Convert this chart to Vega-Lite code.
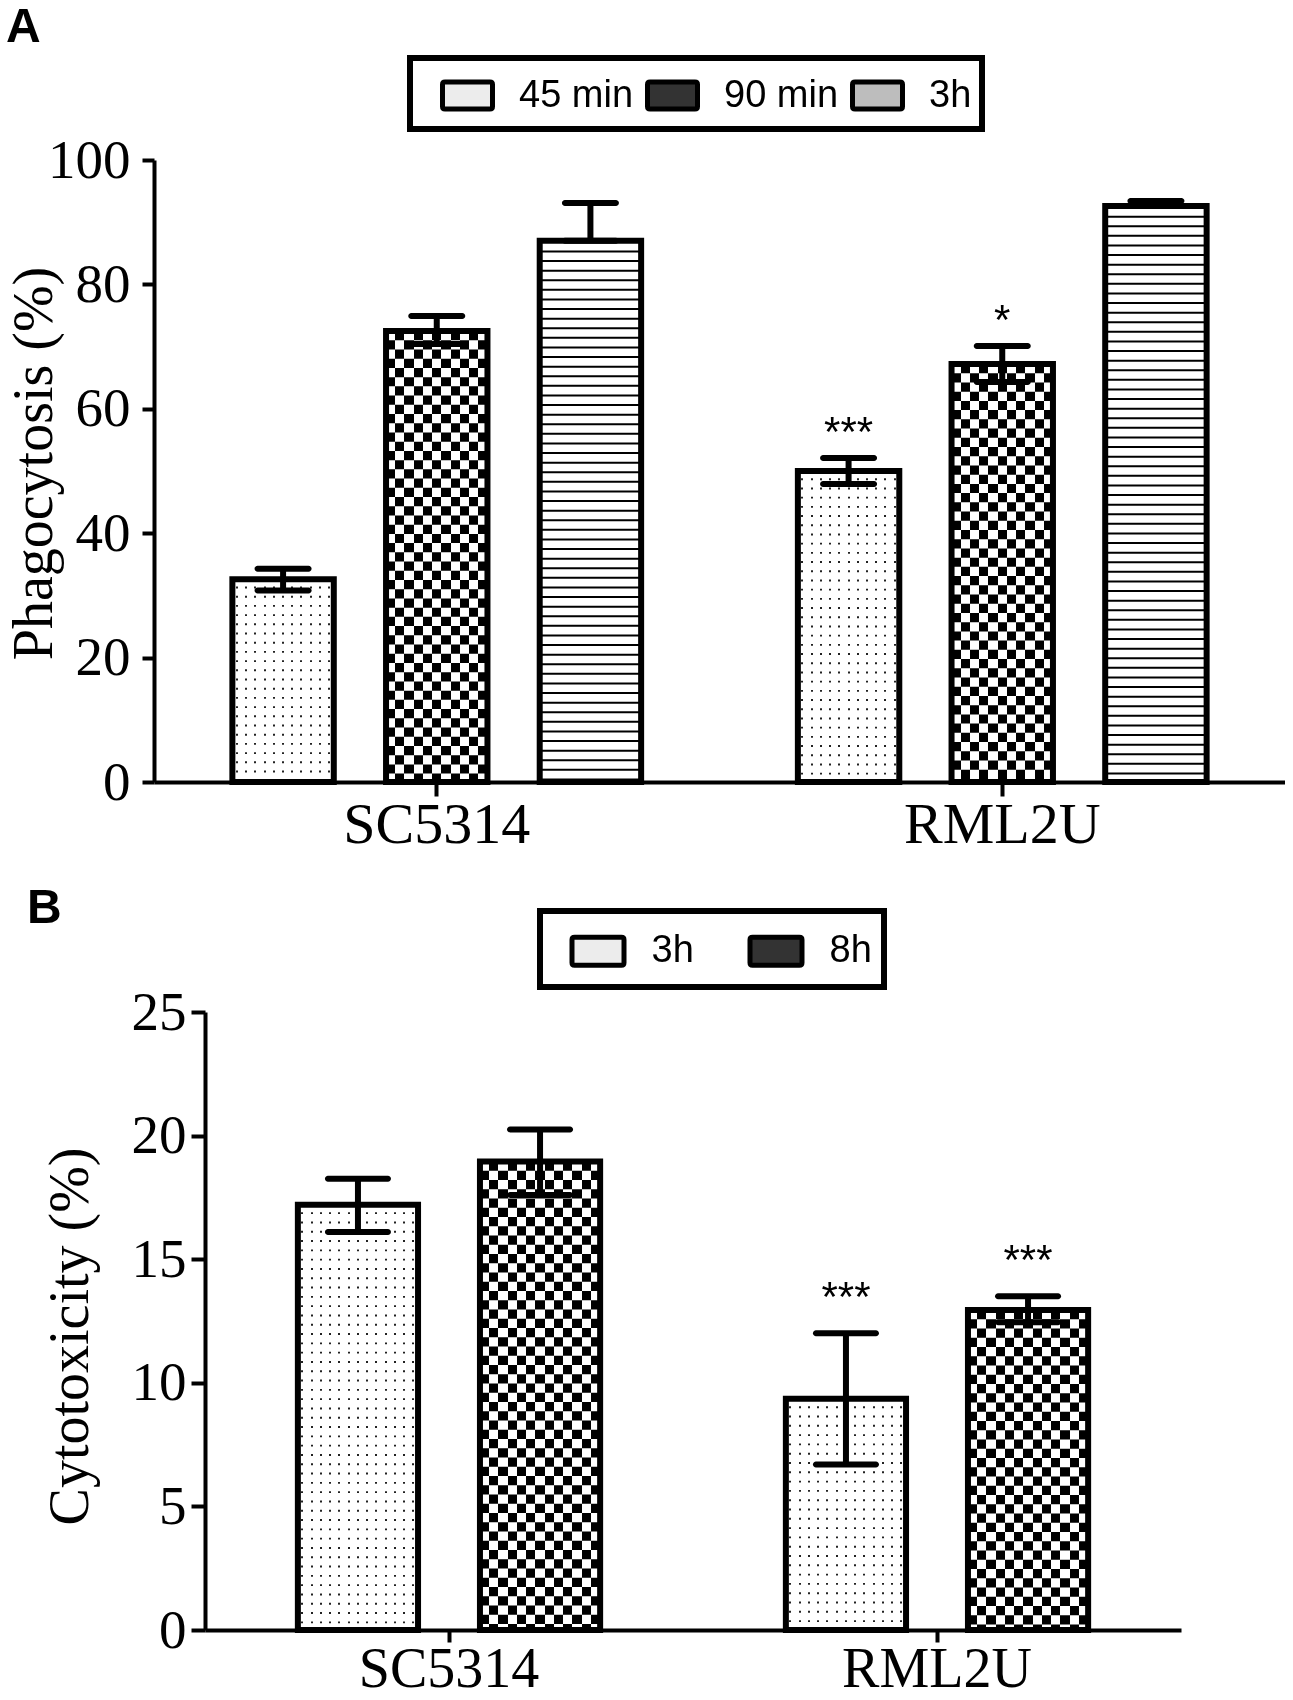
{
  "$schema": "https://vega.github.io/schema/vega-lite/v6.json",
  "padding": {"left": 5, "top": 4, "right": 0, "bottom": 0},
  "spacing": 31,
  "columns": 1,
  "resolve": {"scale": {"fill": "independent", "x": "independent", "y": "independent", "xOffset": "independent"}, "legend": {"fill": "independent"}, "axis": {"x": "independent", "y": "independent"}},
  "config": {
    "view": {"stroke": null},
    "font": "Liberation Sans",
    "axis": {"domainColor": "#000", "domainWidth": 4, "tickColor": "#000", "tickWidth": 4, "labelColor": "#000", "titleColor": "#000", "grid": false, "labelFont": "Liberation Serif", "titleFont": "Liberation Serif", "titleFontWeight": "normal", "labelFontWeight": "normal", "labelLimit": 600},
    "title": {"font": "Liberation Sans", "fontWeight": "bold", "fontSize": 48, "anchor": "start", "frame": "bounds", "color": "#000"},
    "legend": {"strokeWidth": 6}
  },
  "concat": [
    {
      "title": {"text": "A", "offset": 3, "dx": 0},
      "width": 1131,
      "height": 622,
      "data": {"values": [
        {"strain": "SC5314", "time": "45 min", "value": 32.6, "lo": 30.8, "hi": 34.3},
        {"strain": "SC5314", "time": "90 min", "value": 72.5, "lo": 70.4, "hi": 74.9},
        {"strain": "SC5314", "time": "3h", "value": 87.0, "lo": 87.0, "hi": 93.1},
        {"strain": "RML2U", "time": "45 min", "value": 50.0, "lo": 47.9, "hi": 52.1, "sig": "***"},
        {"strain": "RML2U", "time": "90 min", "value": 67.2, "lo": 64.3, "hi": 70.1, "sig": "*"},
        {"strain": "RML2U", "time": "3h", "value": 92.6, "lo": 92.6, "hi": 93.4}
      ]},
      "encoding": {
        "x": {"field": "strain", "type": "nominal", "sort": ["SC5314", "RML2U"], "scale": {"paddingInner": 0, "paddingOuter": 0}, "axis": {"title": null, "labelAngle": 0, "labelFontSize": 58, "tickSize": 14, "labelPadding": 0, "labelLimit": 600}},
        "xOffset": {"field": "time", "type": "nominal", "sort": ["45 min", "90 min", "3h"], "scale": {"domain": ["45 min", "90 min", "3h"], "paddingInner": 0.34, "paddingOuter": 0.51}}
      },
      "layer": [
        {
          "mark": {"type": "bar", "strokeWidth": 0, "opacity": 1},
          "encoding": {
            "y": {"field": "value", "type": "quantitative", "stack": null, "title": "Phagocytosis (%)", "scale": {"domain": [0, 100], "nice": false}, "axis": {"values": [0, 20, 40, 60, 80, 100], "tickSize": 12, "labelPadding": 12, "labelFontSize": 55, "title": "Phagocytosis (%)", "titleFontSize": 56, "titleX": -91, "titleY": 303, "titleBaseline": "bottom", "titleAngle": 270}},
            "fill": {
              "field": "time", "type": "nominal",
              "scale": {"domain": ["45 min", "90 min", "3h"], "range": ["#ececec", "#333333", "#bdbdbd"]},
              "condition": [
                {"test": "datum.time === '45 min'", "value": {"gradient": "linear", "x1": 0, "y1": 0, "x2": 1, "y2": 0, "stops": [
                  {"offset": 0, "color": "#fff"},
                  {"offset": 0.035, "color": "#fff"}, {"offset": 0.035, "color": "#222"}, {"offset": 0.055, "color": "#222"}, {"offset": 0.055, "color": "#fff"},
                  {"offset": 0.1259, "color": "#fff"}, {"offset": 0.1259, "color": "#222"}, {"offset": 0.1459, "color": "#222"}, {"offset": 0.1459, "color": "#fff"},
                  {"offset": 0.2168, "color": "#fff"}, {"offset": 0.2168, "color": "#222"}, {"offset": 0.2368, "color": "#222"}, {"offset": 0.2368, "color": "#fff"},
                  {"offset": 0.3077, "color": "#fff"}, {"offset": 0.3077, "color": "#222"}, {"offset": 0.3277, "color": "#222"}, {"offset": 0.3277, "color": "#fff"},
                  {"offset": 0.3986, "color": "#fff"}, {"offset": 0.3986, "color": "#222"}, {"offset": 0.4186, "color": "#222"}, {"offset": 0.4186, "color": "#fff"},
                  {"offset": 0.4895, "color": "#fff"}, {"offset": 0.4895, "color": "#222"}, {"offset": 0.5095, "color": "#222"}, {"offset": 0.5095, "color": "#fff"},
                  {"offset": 0.5805, "color": "#fff"}, {"offset": 0.5805, "color": "#222"}, {"offset": 0.6005, "color": "#222"}, {"offset": 0.6005, "color": "#fff"},
                  {"offset": 0.6714, "color": "#fff"}, {"offset": 0.6714, "color": "#222"}, {"offset": 0.6914, "color": "#222"}, {"offset": 0.6914, "color": "#fff"},
                  {"offset": 0.7623, "color": "#fff"}, {"offset": 0.7623, "color": "#222"}, {"offset": 0.7823, "color": "#222"}, {"offset": 0.7823, "color": "#fff"},
                  {"offset": 0.8532, "color": "#fff"}, {"offset": 0.8532, "color": "#222"}, {"offset": 0.8732, "color": "#222"}, {"offset": 0.8732, "color": "#fff"},
                  {"offset": 0.9441, "color": "#fff"}, {"offset": 0.9441, "color": "#222"}, {"offset": 0.9641, "color": "#222"}, {"offset": 0.9641, "color": "#fff"},
                  {"offset": 1, "color": "#fff"}
                ]}},
                {"test": "datum.time === '90 min'", "value": {"gradient": "linear", "x1": 0, "y1": 0, "x2": 1, "y2": 0, "stops": [
                  {"offset": 0, "color": "#000"}, {"offset": 0.0909, "color": "#000"}, {"offset": 0.0909, "color": "#fff"}, {"offset": 0.1818, "color": "#fff"},
                  {"offset": 0.1818, "color": "#000"}, {"offset": 0.2727, "color": "#000"}, {"offset": 0.2727, "color": "#fff"}, {"offset": 0.3636, "color": "#fff"},
                  {"offset": 0.3636, "color": "#000"}, {"offset": 0.4545, "color": "#000"}, {"offset": 0.4545, "color": "#fff"}, {"offset": 0.5455, "color": "#fff"},
                  {"offset": 0.5455, "color": "#000"}, {"offset": 0.6364, "color": "#000"}, {"offset": 0.6364, "color": "#fff"}, {"offset": 0.7273, "color": "#fff"},
                  {"offset": 0.7273, "color": "#000"}, {"offset": 0.8182, "color": "#000"}, {"offset": 0.8182, "color": "#fff"}, {"offset": 0.9091, "color": "#fff"},
                  {"offset": 0.9091, "color": "#000"}, {"offset": 1, "color": "#000"}
                ]}},
                {"test": "datum.time === '3h'", "value": "#ffffff"}
              ],
              "legend": {
                "orient": "none", "legendX": 256, "legendY": -102, "direction": "horizontal",
                "title": "\u00a0", "titleOrient": "left", "titleFontSize": 10, "titlePadding": 20,
                "padding": 10, "strokeColor": "black",
                "labelFont": "Liberation Sans", "labelFontSize": 38, "labelColor": "black", "labelOffset": 24, "columnPadding": 3,
                "symbolType": "M-0.9,-0.54L0.9,-0.54Q1,-0.54 1,-0.44L1,0.44Q1,0.54 0.9,0.54L-0.9,0.54Q-1,0.54 -1,0.44L-1,-0.44Q-1,-0.54 -0.9,-0.54Z",
                "symbolSize": 2500, "symbolStrokeWidth": 5, "symbolStrokeColor": "black",
                "encode": {
                  "legend": {"stroke": {"value": "black"}, "strokeWidth": {"value": 6}},
                  "symbols": {"stroke": {"value": "black"}, "strokeWidth": {"value": 5}}
                }
              }
            }
          }
        },
        {
          "transform": [{"filter": "datum.time === '45 min'"}],
          "mark": {"type": "rule", "color": "#ffffff", "stroke": "#ffffff", "strokeWidth": 101.42, "strokeDash": [7.3, 1.9], "strokeCap": "butt", "opacity": 1},
          "encoding": {"y": {"field": "value", "type": "quantitative", "title": "Phagocytosis (%)"}, "y2": {"datum": 0}}
        },
        {
          "transform": [{"filter": "datum.time === '90 min'"}],
          "mark": {"type": "rule", "color": "#ffffff", "stroke": "#ffffff", "strokeWidth": 101.42, "strokeDash": [9.22, 9.22], "strokeCap": "butt", "blend": "difference", "opacity": 1},
          "encoding": {"y": {"field": "value", "type": "quantitative", "title": "Phagocytosis (%)"}, "y2": {"datum": 0}}
        },
        {
          "transform": [{"filter": "datum.time === '3h'"}],
          "mark": {"type": "rule", "color": "#000000", "stroke": "#000000", "strokeWidth": 101.42, "strokeDash": [2, 7.6], "strokeCap": "butt", "opacity": 1},
          "encoding": {"y": {"field": "value", "type": "quantitative", "title": "Phagocytosis (%)"}, "y2": {"datum": 0}}
        },
        {
          "mark": {"type": "bar", "fill": "transparent", "stroke": "#000", "strokeWidth": 6, "opacity": 1},
          "encoding": {"y": {"field": "value", "type": "quantitative", "stack": null, "title": "Phagocytosis (%)"}}
        },
        {
          "mark": {"type": "rule", "color": "#000", "strokeWidth": 6, "opacity": 1},
          "encoding": {"y": {"field": "lo", "type": "quantitative", "title": "Phagocytosis (%)"}, "y2": {"field": "hi"}}
        },
        {
          "mark": {"type": "tick", "color": "#000", "size": 57, "thickness": 6, "cornerRadius": 3, "opacity": 1},
          "encoding": {"y": {"field": "hi", "type": "quantitative", "title": "Phagocytosis (%)"}}
        },
        {
          "mark": {"type": "tick", "color": "#000", "size": 57, "thickness": 6, "cornerRadius": 3, "opacity": 1},
          "encoding": {"y": {"field": "lo", "type": "quantitative", "title": "Phagocytosis (%)"}}
        },
        {
          "transform": [{"filter": "datum.sig"}],
          "mark": {"type": "text", "font": "Liberation Sans", "fontSize": 42, "baseline": "alphabetic", "dy": -12, "color": "#000"},
          "encoding": {"y": {"field": "hi", "type": "quantitative", "title": "Phagocytosis (%)"}, "text": {"field": "sig"}}
        }
      ]
    },
    {
      "title": {"text": "B", "offset": -25, "dx": -15},
      "width": 1027,
      "height": 618,
      "data": {"values": [
        {"strain": "SC5314", "time": "3h", "value": 17.2, "lo": 16.1, "hi": 18.25},
        {"strain": "SC5314", "time": "8h", "value": 18.95, "lo": 17.6, "hi": 20.25},
        {"strain": "RML2U", "time": "3h", "value": 9.35, "lo": 6.7, "hi": 12.0, "sig": "***"},
        {"strain": "RML2U", "time": "8h", "value": 12.95, "lo": 12.45, "hi": 13.5, "sig": "***"}
      ]},
      "encoding": {
        "x": {"field": "strain", "type": "nominal", "sort": ["SC5314", "RML2U"], "scale": {"range": [51, 1027], "paddingInner": 0, "paddingOuter": 0}, "axis": {"title": null, "labelAngle": 0, "labelFontSize": 56, "tickSize": 12, "labelPadding": 0, "labelLimit": 600}},
        "xOffset": {"field": "time", "type": "nominal", "sort": ["3h", "8h"], "scale": {"domain": ["3h", "8h"], "paddingInner": 0.34, "paddingOuter": 0.51}}
      },
      "layer": [
        {
          "mark": {"type": "bar", "strokeWidth": 0, "opacity": 1},
          "encoding": {
            "y": {"field": "value", "type": "quantitative", "stack": null, "title": "Cytotoxicity (%)", "scale": {"domain": [0, 25], "nice": false}, "axis": {"values": [0, 5, 10, 15, 20, 25], "offset": -51, "tickSize": 14, "labelPadding": 5, "labelFontSize": 55, "title": "Cytotoxicity (%)", "titleFontSize": 56, "titleX": -106, "titleY": 324, "titleBaseline": "bottom", "titleAngle": 270}},
            "fill": {
              "field": "time", "type": "nominal",
              "scale": {"domain": ["3h", "8h"], "range": ["#ececec", "#333333"]},
              "condition": [
                {"test": "datum.time === '3h'", "value": {"gradient": "linear", "x1": 0, "y1": 0, "x2": 1, "y2": 0, "stops": [
                  {"offset": 0, "color": "#fff"},
                  {"offset": 0.03, "color": "#fff"}, {"offset": 0.03, "color": "#222"}, {"offset": 0.0467, "color": "#222"}, {"offset": 0.0467, "color": "#fff"},
                  {"offset": 0.1069, "color": "#fff"}, {"offset": 0.1069, "color": "#222"}, {"offset": 0.1236, "color": "#222"}, {"offset": 0.1236, "color": "#fff"},
                  {"offset": 0.1838, "color": "#fff"}, {"offset": 0.1838, "color": "#222"}, {"offset": 0.2005, "color": "#222"}, {"offset": 0.2005, "color": "#fff"},
                  {"offset": 0.2608, "color": "#fff"}, {"offset": 0.2608, "color": "#222"}, {"offset": 0.2775, "color": "#222"}, {"offset": 0.2775, "color": "#fff"},
                  {"offset": 0.3377, "color": "#fff"}, {"offset": 0.3377, "color": "#222"}, {"offset": 0.3544, "color": "#222"}, {"offset": 0.3544, "color": "#fff"},
                  {"offset": 0.4146, "color": "#fff"}, {"offset": 0.4146, "color": "#222"}, {"offset": 0.4313, "color": "#222"}, {"offset": 0.4313, "color": "#fff"},
                  {"offset": 0.4915, "color": "#fff"}, {"offset": 0.4915, "color": "#222"}, {"offset": 0.5082, "color": "#222"}, {"offset": 0.5082, "color": "#fff"},
                  {"offset": 0.5685, "color": "#fff"}, {"offset": 0.5685, "color": "#222"}, {"offset": 0.5852, "color": "#222"}, {"offset": 0.5852, "color": "#fff"},
                  {"offset": 0.6454, "color": "#fff"}, {"offset": 0.6454, "color": "#222"}, {"offset": 0.6621, "color": "#222"}, {"offset": 0.6621, "color": "#fff"},
                  {"offset": 0.7223, "color": "#fff"}, {"offset": 0.7223, "color": "#222"}, {"offset": 0.739, "color": "#222"}, {"offset": 0.739, "color": "#fff"},
                  {"offset": 0.7992, "color": "#fff"}, {"offset": 0.7992, "color": "#222"}, {"offset": 0.8159, "color": "#222"}, {"offset": 0.8159, "color": "#fff"},
                  {"offset": 0.8762, "color": "#fff"}, {"offset": 0.8762, "color": "#222"}, {"offset": 0.8929, "color": "#222"}, {"offset": 0.8929, "color": "#fff"},
                  {"offset": 0.9531, "color": "#fff"}, {"offset": 0.9531, "color": "#222"}, {"offset": 0.9698, "color": "#222"}, {"offset": 0.9698, "color": "#fff"},
                  {"offset": 1, "color": "#fff"}
                ]}},
                {"test": "datum.time === '8h'", "value": {"gradient": "linear", "x1": 0, "y1": 0, "x2": 1, "y2": 0, "stops": [
                  {"offset": 0, "color": "#000"}, {"offset": 0.0769, "color": "#000"}, {"offset": 0.0769, "color": "#fff"}, {"offset": 0.1538, "color": "#fff"},
                  {"offset": 0.1538, "color": "#000"}, {"offset": 0.2308, "color": "#000"}, {"offset": 0.2308, "color": "#fff"}, {"offset": 0.3077, "color": "#fff"},
                  {"offset": 0.3077, "color": "#000"}, {"offset": 0.3846, "color": "#000"}, {"offset": 0.3846, "color": "#fff"}, {"offset": 0.4615, "color": "#fff"},
                  {"offset": 0.4615, "color": "#000"}, {"offset": 0.5385, "color": "#000"}, {"offset": 0.5385, "color": "#fff"}, {"offset": 0.6154, "color": "#fff"},
                  {"offset": 0.6154, "color": "#000"}, {"offset": 0.6923, "color": "#000"}, {"offset": 0.6923, "color": "#fff"}, {"offset": 0.7692, "color": "#fff"},
                  {"offset": 0.7692, "color": "#000"}, {"offset": 0.8462, "color": "#000"}, {"offset": 0.8462, "color": "#fff"}, {"offset": 0.9231, "color": "#fff"},
                  {"offset": 0.9231, "color": "#000"}, {"offset": 1, "color": "#000"}
                ]}}
              ],
              "legend": {
                "orient": "none", "legendX": 386, "legendY": -101, "direction": "horizontal",
                "title": "\u00a0", "titleOrient": "left", "titleFontSize": 10, "titlePadding": 18,
                "padding": 11.5, "strokeColor": "black",
                "labelFont": "Liberation Sans", "labelFontSize": 38, "labelColor": "black", "labelOffset": 25, "columnPadding": 45,
                "symbolType": "M-0.9,-0.54L0.9,-0.54Q1,-0.54 1,-0.44L1,0.44Q1,0.54 0.9,0.54L-0.9,0.54Q-1,0.54 -1,0.44L-1,-0.44Q-1,-0.54 -0.9,-0.54Z",
                "symbolSize": 2704, "symbolStrokeWidth": 5, "symbolStrokeColor": "black",
                "encode": {
                  "legend": {"stroke": {"value": "black"}, "strokeWidth": {"value": 6}},
                  "symbols": {"stroke": {"value": "black"}, "strokeWidth": {"value": 5}}
                }
              }
            }
          }
        },
        {
          "transform": [{"filter": "datum.time === '3h'"}],
          "mark": {"type": "rule", "color": "#ffffff", "stroke": "#ffffff", "strokeWidth": 120.18, "strokeDash": [7.4, 1.9], "strokeCap": "butt", "opacity": 1},
          "encoding": {"y": {"field": "value", "type": "quantitative", "title": "Cytotoxicity (%)"}, "y2": {"datum": 0}}
        },
        {
          "transform": [{"filter": "datum.time === '8h'"}],
          "mark": {"type": "rule", "color": "#ffffff", "stroke": "#ffffff", "strokeWidth": 120.18, "strokeDash": [9.25, 9.25], "strokeCap": "butt", "blend": "difference", "opacity": 1},
          "encoding": {"y": {"field": "value", "type": "quantitative", "title": "Cytotoxicity (%)"}, "y2": {"datum": 0}}
        },
        {
          "mark": {"type": "bar", "fill": "transparent", "stroke": "#000", "strokeWidth": 6, "opacity": 1},
          "encoding": {"y": {"field": "value", "type": "quantitative", "stack": null, "title": "Cytotoxicity (%)"}}
        },
        {
          "mark": {"type": "rule", "color": "#000", "strokeWidth": 6, "opacity": 1},
          "encoding": {"y": {"field": "lo", "type": "quantitative", "title": "Cytotoxicity (%)"}, "y2": {"field": "hi"}}
        },
        {
          "mark": {"type": "tick", "color": "#000", "size": 66, "thickness": 6, "cornerRadius": 3, "opacity": 1},
          "encoding": {"y": {"field": "hi", "type": "quantitative", "title": "Cytotoxicity (%)"}}
        },
        {
          "mark": {"type": "tick", "color": "#000", "size": 66, "thickness": 6, "cornerRadius": 3, "opacity": 1},
          "encoding": {"y": {"field": "lo", "type": "quantitative", "title": "Cytotoxicity (%)"}}
        },
        {
          "transform": [{"filter": "datum.sig"}],
          "mark": {"type": "text", "font": "Liberation Sans", "fontSize": 42, "baseline": "alphabetic", "dy": -22, "color": "#000"},
          "encoding": {"y": {"field": "hi", "type": "quantitative", "title": "Cytotoxicity (%)"}, "text": {"field": "sig"}}
        }
      ]
    }
  ]
}
